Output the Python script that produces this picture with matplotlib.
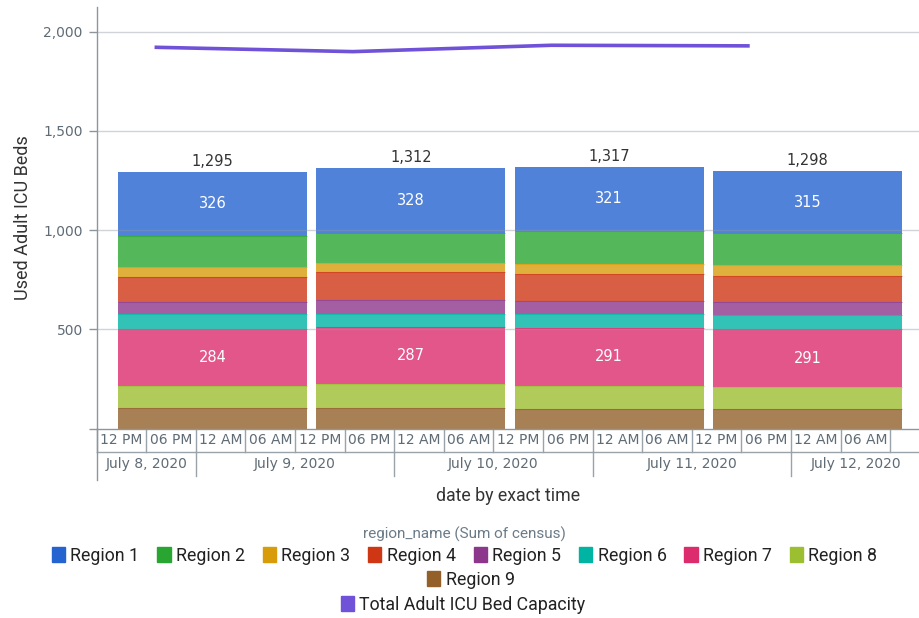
import numpy as np
import pandas as pd
import matplotlib
matplotlib.use("Agg")
import matplotlib.pyplot as plt
import matplotlib.patches as mpatches
import matplotlib.transforms as mtransforms

# --- data -------------------------------------------------------------
regions = ['Region 1', 'Region 2', 'Region 3', 'Region 4', 'Region 5',
           'Region 6', 'Region 7', 'Region 8', 'Region 9']
region_colors = ['#2563d0', '#29a632', '#d89c0b', '#cf3714', '#8d378c',
                 '#00b4a4', '#dd2c6d', '#9cbe31', '#93602a']

bar_times = ['2020-07-09 02:00', '2020-07-10 02:00',
             '2020-07-11 02:00', '2020-07-12 02:00']
region_1 = [326, 328, 321, 315]
region_2 = [157, 152, 167, 161]
region_3 = [48, 45, 50, 53]
region_4 = [127, 139, 138, 132]
region_5 = [59, 69, 62, 67]
region_6 = [79, 68, 73, 70]
region_7 = [284, 287, 291, 291]
region_8 = [113, 119, 118, 113]
region_9 = [102, 105, 97, 96]

capacity_times = ['2020-07-08 19:00', '2020-07-09 19:00',
                  '2020-07-10 19:00', '2020-07-11 19:00']
capacity = [1921, 1899, 1931, 1928]
capacity_color = '#6f52d8'

labelled = ['Region 1', 'Region 7']   # segments with value labels

census = [region_1, region_2, region_3, region_4, region_5,
          region_6, region_7, region_8, region_9]

# x in hours since July 8, 2020 00:00
t0 = pd.Timestamp('2020-07-08 00:00')
bar_x = np.array([(pd.Timestamp(t) - t0) / pd.Timedelta(hours=1) for t in bar_times])
cap_x = np.array([(pd.Timestamp(t) - t0) / pd.Timedelta(hours=1) for t in capacity_times])
x_left, x_right = 12, 111.6
bar_width = 22.9

axis_gray = '#8d969d'
text_gray = '#5f6b75'
dark = '#333333'

fig = plt.figure(figsize=(9.2, 6.18), dpi=100)
ax = fig.add_axes([0.1051, 0.3066, 0.8949, 0.6818])

# stacked bars, Region 9 at the bottom
bottom = np.zeros(len(bar_x))
for name, vals, col in reversed(list(zip(regions, census, region_colors))):
    vals = np.array(vals)
    ax.bar(bar_x, vals, width=bar_width, bottom=bottom, color=col, alpha=0.8,
           linewidth=0, zorder=2)
    # thin boundary line between segments
    if name != regions[0]:
        ax.hlines(bottom + vals, bar_x - bar_width / 2, bar_x + bar_width / 2,
                  color=col, alpha=0.6, linewidth=0.8, zorder=2.5)
    if name in labelled:
        for xi, b, v in zip(bar_x, bottom, vals):
            ax.text(xi, b + v / 2, f'{v:,}', ha='center', va='center',
                    color='white', fontsize=10.5, zorder=5)
    bottom = bottom + vals

for xi, tot in zip(bar_x, bottom):
    ax.annotate(f'{int(tot):,}', xy=(xi, tot), xytext=(0, 2),
                textcoords='offset points', ha='center', va='bottom',
                color=dark, fontsize=10.5)

ax.plot(cap_x, capacity, color=capacity_color, linewidth=2.6, zorder=4,
        solid_capstyle='butt')

# y axis
ax.set_ylim(0, 2123)
ax.set_xlim(x_left, x_right)
ax.set_yticks([0, 500, 1000, 1500, 2000])
ax.set_yticklabels(['', '500', '1,000', '1,500', '2,000'])
ax.tick_params(axis='y', length=6, width=1, color=axis_gray, pad=4,
               labelcolor=text_gray, labelsize=10)
for yv in [500, 1000, 1500, 2000]:
    ax.axhline(yv, color='#8f9aa3', alpha=0.42, linewidth=1, zorder=3)

for s in ['top', 'right']:
    ax.spines[s].set_visible(False)
for s in ['left', 'bottom']:
    ax.spines[s].set_color(axis_gray)
    ax.spines[s].set_linewidth(1)

# two-row time axis drawn by hand
ax.set_xticks([])
trans = mtransforms.blended_transform_factory(ax.transData, ax.transAxes)
row1 = -0.0558
row2 = -0.113
cell_edges = np.arange(12, 109, 6)
cell_names = ['12 PM', '06 PM', '12 AM', '06 AM']
for i, e in enumerate(cell_edges):
    ax.plot([e, e], [0, row1], transform=trans, color='#9aa3aa',
            linewidth=1, clip_on=False)
    if e < 108:
        ax.text(e + 3, row1 / 2, cell_names[i % 4], transform=trans,
                ha='center', va='center', fontsize=10, color=text_gray)
ax.plot([x_left, x_right], [row1, row1], transform=trans, color='#9aa3aa',
        linewidth=1, clip_on=False)
ax.plot([x_left, x_left], [0, row2 - 0.01], transform=trans, color=axis_gray,
        linewidth=1, clip_on=False)
day_edges = [12, 24, 48, 72, 96, x_right]
day_names = ['July 8, 2020', 'July 9, 2020', 'July 10, 2020',
             'July 11, 2020', 'July 12, 2020']
for a, b, name in zip(day_edges[:-1], day_edges[1:], day_names):
    if a > x_left:
        ax.plot([a, a], [row1, row2], transform=trans, color='#9aa3aa',
                linewidth=1, clip_on=False)
    ax.text((a + b) / 2, (row1 + row2) / 2, name, transform=trans,
            ha='center', va='center', fontsize=10, color=text_gray)

ax.set_ylabel('Used Adult ICU Beds', fontsize=13, color=dark, family='Roboto')
ax.yaxis.set_label_coords(-0.078, 0.5)
ax.set_xlabel('date by exact time', fontsize=12.8, color=dark, family='Roboto')
ax.xaxis.set_label_coords(0.5, -0.138)

# legends
fig.text(464.5 / 920, 1 - 534 / 618, 'region_name (Sum of census)',
         ha='center', va='center', fontsize=11, color='#6b7b88', family='Roboto')
handles = [mpatches.Patch(color=c, label=n) for n, c in zip(regions, region_colors)]
leg_kw = dict(loc='center', frameon=False, borderpad=0, handlelength=0.75,
              handleheight=0.9, handletextpad=0.3, columnspacing=1.0,
              prop={'family': 'Roboto', 'size': 12.8})
leg1 = fig.legend(handles=handles[:8], ncol=8,
                  bbox_to_anchor=(464.5 / 920, 1 - 556 / 618), **leg_kw)
leg2 = fig.legend(handles=handles[8:], ncol=1,
                  bbox_to_anchor=(471 / 920, 1 - 580 / 618), **leg_kw)
leg3 = fig.legend(handles=[mpatches.Patch(color=capacity_color,
                                          label='Total Adult ICU Bed Capacity')],
                  ncol=1, bbox_to_anchor=(463 / 920, 1 - 605 / 618), **leg_kw)
for lg in (leg1, leg2, leg3):
    for t in lg.get_texts():
        t.set_color('#222222')

fig.savefig('out.png', dpi=100)
